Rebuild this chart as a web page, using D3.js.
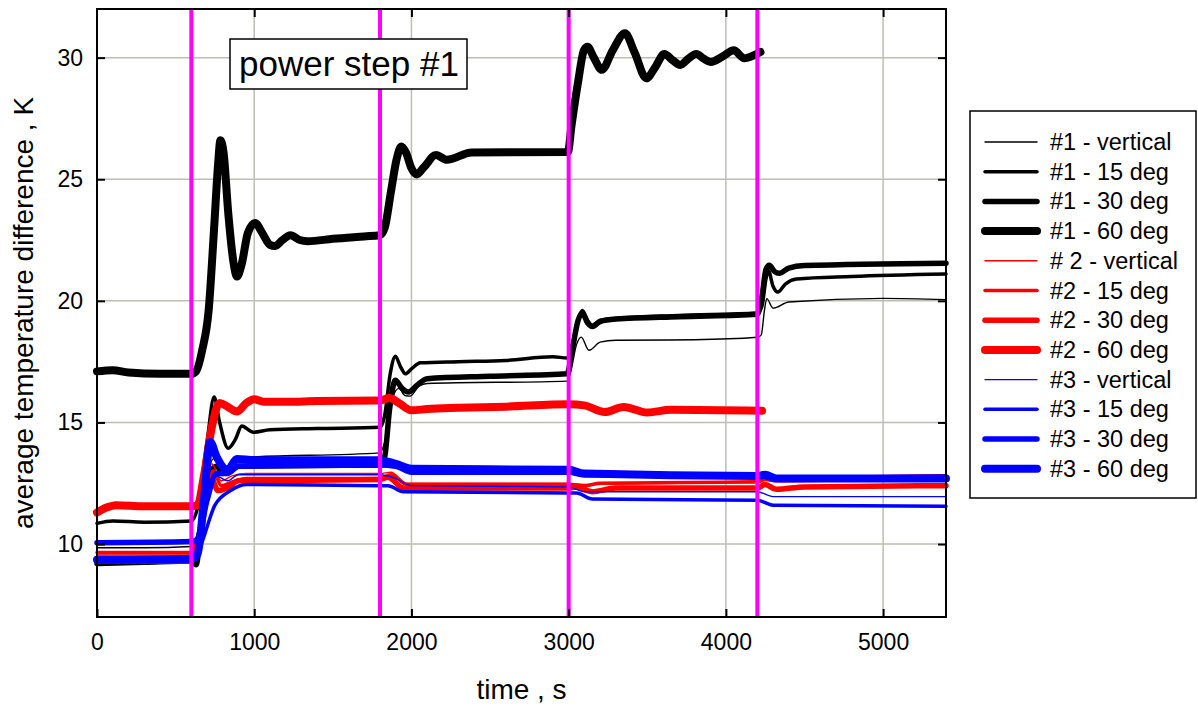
<!DOCTYPE html>
<html>
<head>
<meta charset="utf-8">
<script src="https://cdn.jsdelivr.net/npm/d3@7"></script>
<style>
  body { margin: 0; background: #fff; }
  text { font-family: Arial, "Liberation Sans", sans-serif; fill: #000; }
</style>
</head>
<body>
<script>
// time axis ticks and power step times
var xTicks = [1000, 2000, 3000, 4000, 5000];
var yTicks = [10, 15, 20, 25, 30];
var stepTimes = [600, 1800, 3000, 4200];

// series values [time s, dT K]
var s1vert = [[0,9.85],[300,9.85],[600,9.9],[640,10.5],[700,12.8],[740,13.5],[800,13.1],[850,13.3],[900,13.55],[1800,13.75],[1830,14.2],[1880,16.0],[1920,16.4],[1960,16.1],[1990,16.08],[2050,16.5],[2100,16.6],[2990,16.7],[3010,17.0],[3050,18.2],[3080,18.51],[3129,17.97],[3200,18.3],[3300,18.38],[3800,18.4],[4200,18.5],[4225,18.6],[4245,19.6],[4260,20.09],[4300,19.7],[4400,19.95],[5000,20.1],[5400,20.05]];
var s1deg15 = [[0,10.85],[100,10.95],[300,10.9],[600,10.95],[640,11.5],[700,14.2],[745,16.05],[780,15.0],[834,13.94],[880,14.3],[921,14.85],[994,14.6],[1100,14.7],[1400,14.75],[1800,14.8],[1830,15.3],[1865,17.0],[1898,17.72],[1930,17.3],[1962,17.0],[2000,17.2],[2057,17.45],[2300,17.5],[2600,17.55],[2900,17.7],[2990,17.65],[3023,18.2],[3060,19.2],[3087,19.6],[3120,19.2],[3151,19.0],[3200,19.2],[3300,19.27],[3700,19.4],[4200,19.5],[4230,19.8],[4255,20.9],[4270,21.25],[4300,20.6],[4330,20.36],[4380,20.7],[4450,20.9],[4800,21.0],[5400,21.1]];
var s1deg30 = [[0,9.2],[300,9.25],[600,9.3],[630,9.15],[660,10.5],[720,12.9],[760,13.2],[800,12.9],[850,13.0],[900,13.2],[1800,13.25],[1830,13.6],[1860,15.5],[1898,16.73],[1940,16.4],[1981,16.25],[2030,16.5],[2100,16.8],[2500,16.9],[2990,17.0],[3023,18.0],[3060,19.2],[3087,19.5],[3120,19.1],[3151,18.95],[3200,19.15],[3300,19.25],[3700,19.35],[4200,19.45],[4230,20.2],[4255,21.3],[4276,21.46],[4310,21.2],[4338,21.13],[4400,21.35],[4500,21.45],[5400,21.55]];
var s1deg60 = [[0,17.1],[100,17.15],[200,17.05],[400,17.0],[600,17.0],[630,17.1],[670,18.0],[710,19.6],[745,23.0],[770,25.6],[785,26.6],[805,26.1],[835,23.6],[870,21.5],[890,21.0],[920,21.5],[960,22.8],[1006,23.2],[1050,22.8],[1100,22.3],[1130,22.25],[1180,22.5],[1230,22.7],[1290,22.5],[1340,22.45],[1500,22.55],[1700,22.65],[1800,22.7],[1830,23.0],[1870,24.5],[1905,25.8],[1935,26.35],[1965,26.1],[2000,25.45],[2032,25.2],[2080,25.5],[2156,26.0],[2224,25.8],[2383,26.1],[2995,26.12],[3018,27.2],[3060,29.0],[3097,30.3],[3120,30.45],[3160,30.0],[3211,29.5],[3280,30.3],[3358,31.0],[3420,30.2],[3494,29.15],[3550,29.6],[3608,30.15],[3660,29.9],[3710,29.7],[3760,29.95],[3812,30.15],[3860,29.95],[3903,29.82],[3980,30.05],[4050,30.3],[4118,29.97],[4180,30.1],[4220,30.23]];

var s2vert = [[0,9.55],[600,9.55],[650,10.5],[730,13.3],[790,12.6],[860,12.8],[950,12.9],[1800,12.9],[1870,12.95],[1970,12.5],[3000,12.5],[3100,12.45],[4200,12.6],[4320,12.7],[5400,12.85]];
var s2deg15 = [[0,9.65],[600,9.65],[650,10.5],[740,13.0],[790,12.4],[860,12.55],[950,12.7],[1800,12.7],[1870,12.85],[1970,12.45],[3000,12.45],[3100,12.4],[3200,12.5],[4200,12.55],[4250,12.65],[4320,12.6],[5400,12.8]];
var s2deg30 = [[0,9.3],[600,9.3],[660,10.5],[720,12.8],[770,12.2],[830,12.3],[900,12.6],[1800,12.65],[1850,12.75],[1950,12.3],[3000,12.3],[3050,12.35],[3150,12.15],[3300,12.3],[4200,12.3],[4250,12.45],[4320,12.25],[4500,12.35],[5400,12.4]];
var s2deg60 = [[0,11.3],[60,11.5],[120,11.6],[300,11.55],[600,11.55],[640,11.6],[680,12.8],[730,14.8],[780,15.8],[830,15.65],[890,15.45],[950,15.8],[1000,15.95],[1060,15.85],[1200,15.85],[1400,15.88],[1800,15.9],[1860,16.0],[1920,15.8],[2000,15.5],[2100,15.55],[2300,15.6],[2600,15.65],[3000,15.75],[3100,15.7],[3230,15.43],[3350,15.64],[3500,15.41],[3650,15.52],[4230,15.48]];

var s3vert = [[0,9.4],[600,9.45],[650,10.0],[720,12.5],[760,12.8],[830,12.6],[900,12.85],[1800,12.85],[1900,12.7],[2000,12.4],[3000,12.35],[3100,12.15],[4200,12.15],[4300,11.95],[5400,11.95]];
var s3deg15 = [[0,9.3],[600,9.35],[650,9.8],[750,11.6],[850,12.2],[950,12.45],[1800,12.4],[1850,12.4],[1950,12.15],[3000,12.1],[3050,12.1],[3150,11.85],[4200,11.8],[4300,11.6],[5400,11.55]];
var s3deg30 = [[0,10.05],[600,10.1],[640,10.2],[700,11.8],[760,12.9],[830,12.9],[900,13.2],[1800,13.25],[1900,13.2],[2000,12.95],[3000,12.95],[3100,12.85],[4200,12.85],[4300,12.7],[5400,12.75]];
var s3deg60 = [[0,9.35],[600,9.4],[640,9.6],[680,11.8],[720,14.2],[760,13.6],[830,13.05],[890,13.5],[1000,13.45],[1800,13.45],[1900,13.3],[2000,13.1],[3000,13.05],[3100,12.9],[4200,12.8],[4250,12.85],[4320,12.7],[5400,12.7]];

var series = [
  {name: '#1 - vertical', color: '#000', w: 1.4, data: s1vert},
  {name: '#1 - 15 deg', color: '#000', w: 3.5, data: s1deg15},
  {name: '#1 - 30 deg', color: '#000', w: 5.5, data: s1deg30},
  {name: '#1 - 60 deg', color: '#000', w: 8, data: s1deg60},
  {name: '# 2 - vertical', color: '#ff0000', w: 1.4, data: s2vert},
  {name: '#2 - 15 deg', color: '#ff0000', w: 3.5, data: s2deg15},
  {name: '#2 - 30 deg', color: '#ff0000', w: 5.5, data: s2deg30},
  {name: '#2 - 60 deg', color: '#ff0000', w: 8, data: s2deg60},
  {name: '#3 - vertical', color: '#0000ff', w: 1.4, data: s3vert},
  {name: '#3 - 15 deg', color: '#0000ff', w: 3.5, data: s3deg15},
  {name: '#3 - 30 deg', color: '#0000ff', w: 5.5, data: s3deg30},
  {name: '#3 - 60 deg', color: '#0000ff', w: 8, data: s3deg60}
];

var W = 1198, H = 707;
var pLeft = 97, pRight = 946, pTop = 9, pBottom = 617;

var svg = d3.select('body').append('svg')
  .attr('width', W)
  .attr('height', H);

var x = d3.scaleLinear().domain([0, 5400]).range([pLeft, pRight]);
var y = d3.scaleLinear().domain([7, 32]).range([pBottom, pTop]);

// grid
var grid = svg.append('g');
grid.selectAll('line.gx')
  .data(xTicks)
  .enter().append('line')
  .attr('x1', function(d) { return x(d); })
  .attr('x2', function(d) { return x(d); })
  .attr('y1', pTop)
  .attr('y2', pBottom)
  .attr('stroke', '#bdbdb4')
  .attr('stroke-width', 1.5);
grid.selectAll('line.gy')
  .data(yTicks)
  .enter().append('line')
  .attr('x1', pLeft)
  .attr('x2', pRight)
  .attr('y1', function(d) { return y(d); })
  .attr('y2', function(d) { return y(d); })
  .attr('stroke', '#bdbdb4')
  .attr('stroke-width', 1.5);

// series lines
var line = d3.line()
  .x(function(d) { return x(d[0]); })
  .y(function(d) { return y(d[1]); })
  .curve(d3.curveMonotoneX);

svg.append('g').selectAll('path')
  .data(series)
  .enter().append('path')
  .attr('d', function(d) { return line(d.data); })
  .attr('fill', 'none')
  .attr('stroke', function(d) { return d.color; })
  .attr('stroke-width', function(d) { return d.w; })
  .attr('stroke-linecap', 'round')
  .attr('stroke-linejoin', 'round');

// power step markers
svg.append('g').selectAll('line')
  .data(stepTimes)
  .enter().append('line')
  .attr('x1', function(d) { return x(d); })
  .attr('x2', function(d) { return x(d); })
  .attr('y1', pTop)
  .attr('y2', pBottom)
  .attr('stroke', '#ff00ff')
  .attr('stroke-width', 4);

// axes, ticks pointing inwards
var fontAx = '23px';
var ax = svg.append('g').attr('transform', 'translate(0,' + pBottom + ')')
  .call(d3.axisBottom(x).tickValues([0].concat(xTicks)).tickSize(-8).tickPadding(17).tickFormat(d3.format('d')));
var axTop = svg.append('g').attr('transform', 'translate(0,' + pTop + ')')
  .call(d3.axisTop(x).tickValues(xTicks).tickSize(-8).tickFormat(''));
var ay = svg.append('g').attr('transform', 'translate(' + pLeft + ',0)')
  .call(d3.axisLeft(y).tickValues(yTicks).tickSize(-8).tickPadding(14));
var ayR = svg.append('g').attr('transform', 'translate(' + pRight + ',0)')
  .call(d3.axisRight(y).tickValues(yTicks).tickSize(-8).tickFormat(''));

[ax, axTop, ay, ayR].forEach(function(g) {
  g.select('.domain').remove();
  g.selectAll('line').attr('stroke', '#000').attr('stroke-width', 2);
  g.selectAll('text').style('font-size', fontAx).style('font-family', 'Arial, "Liberation Sans", sans-serif');
});

// plot frame
svg.append('rect')
  .attr('x', pLeft)
  .attr('y', pTop)
  .attr('width', pRight - pLeft)
  .attr('height', pBottom - pTop)
  .attr('fill', 'none')
  .attr('stroke', '#000')
  .attr('stroke-width', 2);

// axis titles
svg.append('text')
  .attr('x', (pLeft + pRight) / 2)
  .attr('y', 699)
  .attr('text-anchor', 'middle')
  .style('font-size', '28px')
  .text('time , s');

svg.append('text')
  .attr('transform', 'translate(33,' + (pTop + pBottom) / 2 + ') rotate(-90)')
  .attr('text-anchor', 'middle')
  .style('font-size', '28px')
  .text('average temperature difference , K');

// annotation box
svg.append('rect')
  .attr('x', 230)
  .attr('y', 39)
  .attr('width', 237)
  .attr('height', 50)
  .attr('fill', '#fff')
  .attr('stroke', '#000')
  .attr('stroke-width', 1.5);
svg.append('text')
  .attr('x', 239)
  .attr('y', 76)
  .style('font-size', '35px')
  .text('power step #1');

// legend
var lg = svg.append('g');
lg.append('rect')
  .attr('x', 970)
  .attr('y', 111)
  .attr('width', 226)
  .attr('height', 387)
  .attr('fill', '#fff')
  .attr('stroke', '#000')
  .attr('stroke-width', 1.5);

var item = lg.selectAll('g.item')
  .data(series)
  .enter().append('g')
  .attr('transform', function(d, i) { return 'translate(0,' + (142 + i * 29.7) + ')'; });

item.append('line')
  .attr('x1', 985)
  .attr('x2', 1037)
  .attr('y1', 0)
  .attr('y2', 0)
  .attr('stroke', function(d) { return d.color; })
  .attr('stroke-width', function(d) { return d.w; })
  .attr('stroke-linecap', 'round');

item.append('text')
  .attr('x', 1050)
  .attr('y', 8)
  .style('font-size', '23.5px')
  .text(function(d) { return d.name; });
</script>
</body>
</html>
